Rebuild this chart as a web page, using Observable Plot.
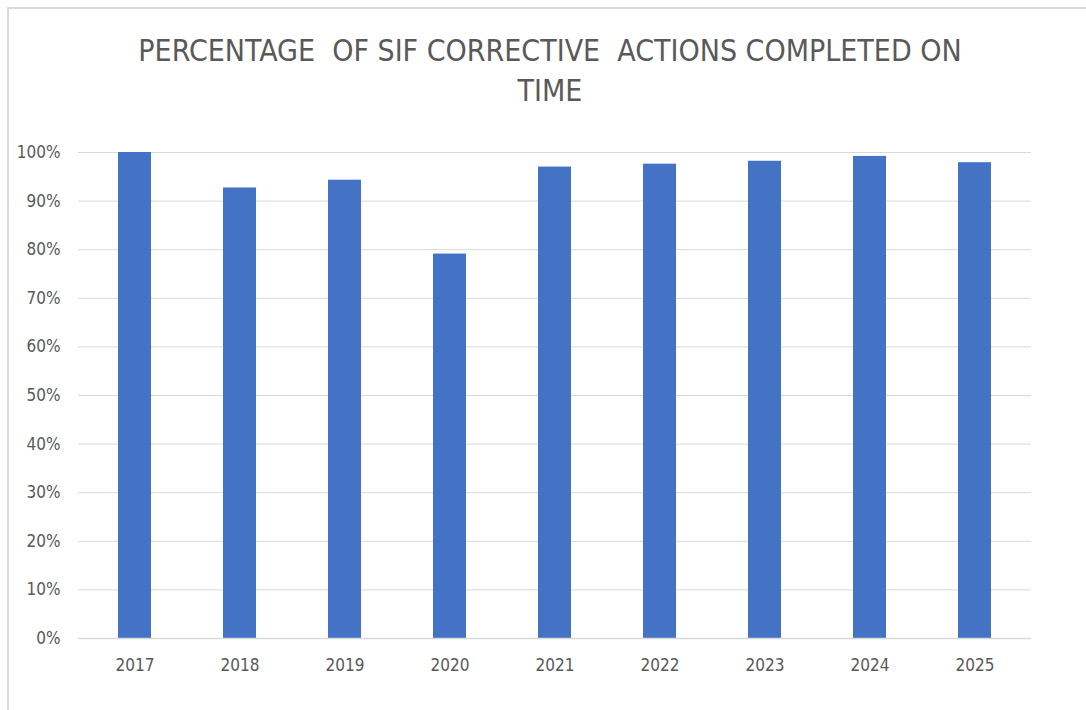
<!DOCTYPE html>
<html>
<head>
<meta charset="utf-8">
<script src="https://cdn.jsdelivr.net/npm/d3@7"></script>
<script src="https://cdn.jsdelivr.net/npm/@observablehq/plot@0.6"></script>
<style>
  html, body { margin: 0; padding: 0; background: #fff; width: 1086px; height: 710px; overflow: hidden; }
  #frame { position: absolute; left: 7px; top: 7px; width: 1200px; height: 800px;
           border-top: 2px solid #d9d9d9; border-left: 2px solid #d9d9d9; }
  #title { position: absolute; left: 0; top: 31px; width: 1100px; text-align: center;
           font-family: "DejaVu Sans Condensed", "Liberation Sans Narrow", "Open Sans", sans-serif;
           font-size: 30px; line-height: 40px; color: #595959; }
  #chart { position: absolute; left: 0; top: 120px; }
</style>
</head>
<body>
<div id="frame"></div>
<div id="title">PERCENTAGE&nbsp; OF SIF CORRECTIVE&nbsp; ACTIONS COMPLETED ON<br>TIME</div>
<div id="chart"></div>
<script>
const years = ["2017", "2018", "2019", "2020", "2021", "2022", "2023", "2024", "2025"];
const values = [100, 92.7, 94.3, 79.1, 97.0, 97.6, 98.2, 99.2, 97.9];
const yTicks = [0, 10, 20, 30, 40, 50, 60, 70, 80, 90, 100];

const data = years.map((y, i) => ({year: y, value: values[i]}));
const font = '"DejaVu Sans Condensed", "Liberation Sans Narrow", "Open Sans", sans-serif';

const chart = Plot.plot({
  width: 1086,
  height: 590,
  marginTop: 32,
  marginBottom: 72,
  marginLeft: 78,
  marginRight: 55,
  style: {fontFamily: font, fontSize: "17px", color: "#595959", background: "transparent"},
  x: {domain: years, paddingInner: 0.69, paddingOuter: 0.345, label: null},
  y: {domain: [0, 100], label: null},
  marks: [
    Plot.gridY(yTicks, {stroke: "#d9d9d9", strokeOpacity: 1, strokeWidth: 1}),
    Plot.barY(data, {x: "year", y: "value", fill: "#4472C4"}),
    Plot.ruleY([0], {stroke: "#d9d9d9", strokeWidth: 1.5}),
    Plot.axisY(yTicks, {tickSize: 0, tickPadding: 18, tickFormat: d => d + "%", fill: "#595959", fontSize: 17}),
    Plot.axisX({tickSize: 0, tickPadding: 20, fill: "#595959", fontSize: 17})
  ]
});
document.getElementById("chart").appendChild(chart);
</script>
</body>
</html>
